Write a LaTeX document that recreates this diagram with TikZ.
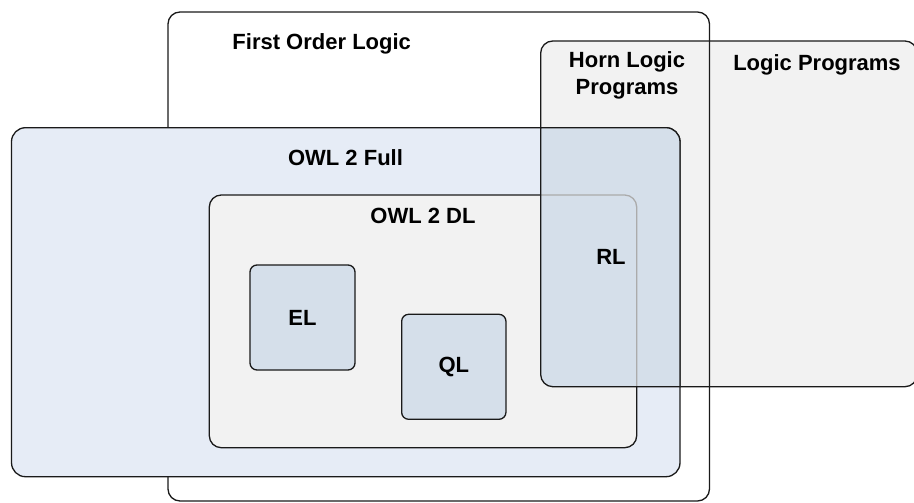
\documentclass[tikz,border=0pt]{standalone}
\usepackage{fontspec}
\setmainfont{Liberation Sans}
\definecolor{linec}{HTML}{1A1A1A}
\definecolor{fullblue}{HTML}{E6ECF6}
\definecolor{panelgray}{HTML}{F2F2F2}
\definecolor{boxblue}{HTML}{D5DFEA}
\definecolor{hiddenedge}{HTML}{ABABAB}
\begin{document}
\begin{tikzpicture}[x=1pt,y=-1pt,
  region/.style={draw=linec, line width=1.3pt, rounded corners=12pt},
  lbl/.style={font=\fontsize{22}{26}\selectfont\bfseries, anchor=base, inner sep=0pt},
  smallbox/.style={draw=linec, line width=1.3pt, fill=boxblue, rounded corners=7pt,
    font=\fontsize{22}{26}\selectfont\bfseries, inner sep=0pt}]
\useasboundingbox (0,0) rectangle (914,503);

% RL overlap region: square corners except top-right and bottom-left
\def\rlshape{(540.7,127.7) -- (666,127.7)
  .. controls (673.7,127.7) and (680,134) .. (680,141.7)
  -- (680,386.7) -- (552.7,386.7)
  .. controls (546.1,386.7) and (540.7,381.1) .. (540.7,374.7) -- cycle}

% First Order Logic background
\fill[white, rounded corners=12pt] (168,12) rectangle (709.5,501);
% Logic Programs panel
\draw[region, fill=panelgray] (540.7,41) rectangle (917,386.7);
% First Order Logic outline
\draw[region] (168,12) rectangle (709.5,501);
% OWL 2 Full
\draw[region, rounded corners=14pt, fill=fullblue] (11.5,127.7) rectangle (680,476.7);
% OWL 2 DL
\draw[region, fill=panelgray] (209.3,195) rectangle (636.7,447.7);

% profiles
\node[smallbox, minimum width=105pt, minimum height=105pt] (el) at (302.5,317.5) {EL};
\node[smallbox, minimum width=104.3pt, minimum height=105pt] (ql) at (453.8,366.8) {QL};

% RL: overlap of OWL 2 Full and Horn Logic Programs
\fill[boxblue] \rlshape;
\begin{scope}
  \clip \rlshape;
  \draw[draw=hiddenedge, line width=1.3pt, rounded corners=12pt] (209.3,195) rectangle (636.7,447.7);
\end{scope}
\draw[draw=linec, line width=1.3pt] \rlshape;

% labels
\node[lbl] (fol) at (321.7,50) {First Order Logic};
\node[lbl] (horn1) at (627,67.7) {Horn Logic};
\node[lbl] (horn2) at (627,95) {Programs};
\node[lbl] (lp) at (817,71) {Logic Programs};
\node[lbl] (full) at (345.5,165) {OWL 2 Full};
\node[lbl] (dl) at (423,223) {OWL 2 DL};
\node[lbl] (rl) at (611,264.3) {RL};
\end{tikzpicture}
\end{document}
